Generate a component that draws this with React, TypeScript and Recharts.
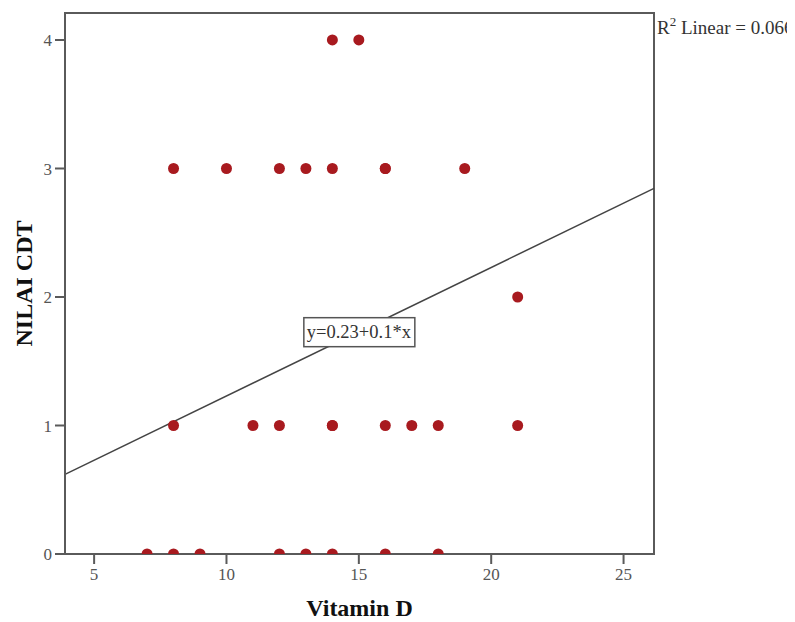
import React from 'react';
import {
  ScatterChart,
  Scatter,
  XAxis,
  YAxis,
  ReferenceLine,
  ReferenceArea,
  ReferenceDot,
} from 'recharts';

// Observations: Vitamin D (x) against NILAI CDT (y)
const vitaminD = [14, 15, 8, 10, 12, 13, 14, 16, 16, 19, 21, 8, 11, 12, 14, 14, 16, 17, 18, 21, 7, 8, 9, 12, 13, 14, 16, 18];
const nilaiCDT = [4, 4, 3, 3, 3, 3, 3, 3, 3, 3, 2, 1, 1, 1, 1, 1, 1, 1, 1, 1, 0, 0, 0, 0, 0, 0, 0, 0];

const xTicks = [5, 10, 15, 20, 25];
const yTicks = [0, 1, 2, 3, 4];
const xDomain: [number, number] = [3.9, 26.15];
const yDomain: [number, number] = [0, 4.21];

const intercept = 0.23;
const slope = 0.1;
const fitLabelX = 15;
const fitLabel = 'y=0.23+0.1*x';
const r2Value = '0.066';

const xTitle = 'Vitamin D';
const yTitle = 'NILAI CDT';

const points = vitaminD.map((x, i) => ({ x, y: nilaiCDT[i] }));
const fit = (x: number) => intercept + slope * x;

const FONT = '"Liberation Serif", "Times New Roman", serif';
const AXIS = '#5a5a5a';
const DOT = '#a81a1f';

const Dot = (props: any) => (
  <circle cx={props.cx} cy={props.cy} r={5.5} fill={DOT} />
);

const FitLabelShape = (props: any) => {
  const { cx, cy } = props;
  return (
    <g>
      <rect x={cx - 55} y={cy - 14} width={111} height={29} fill="#fff" stroke="#555" strokeWidth={1.5} />
      <text x={cx} y={cy + 6} textAnchor="middle" fontSize={18.5} fill="#333" fontFamily={FONT}>
        {fitLabel}
      </text>
    </g>
  );
};

const R2Shape = (props: any) => {
  const { cx, cy } = props;
  return (
    <text x={cx + 3} y={cy + 21} fontSize={19} fill="#333" fontFamily={FONT}>
      R
      <tspan dy={-8} fontSize={13}>2</tspan>
      <tspan dy={8}>{` Linear = ${r2Value}`}</tspan>
    </text>
  );
};

export default function App() {
  return (
    <div style={{ width: 787, height: 614, fontFamily: FONT }}>
      <ScatterChart
        width={787}
        height={614}
        margin={{ top: 5, right: 141, bottom: 8, left: 0 }}
        style={{ fontFamily: FONT }}
      >
        <XAxis
          type="number"
          dataKey="x"
          domain={xDomain}
          ticks={xTicks}
          allowDataOverflow
          height={60}
          tickSize={10}
          tickMargin={4}
          axisLine={{ stroke: AXIS, strokeWidth: 2 }}
          tickLine={{ stroke: AXIS, strokeWidth: 2 }}
          tick={{ fill: '#555', fontSize: 17, fontFamily: FONT }}
          label={{
            value: xTitle,
            position: 'insideBottom',
            offset: -2,
            style: { fontSize: 24, fontWeight: 'bold', fill: '#111', fontFamily: FONT },
          }}
        />
        <YAxis
          type="number"
          dataKey="y"
          domain={yDomain}
          ticks={yTicks}
          allowDataOverflow
          width={57}
          tickSize={10}
          tickMargin={3}
          axisLine={{ stroke: AXIS, strokeWidth: 2 }}
          tickLine={{ stroke: AXIS, strokeWidth: 2 }}
          tick={{ fill: '#555', fontSize: 17, fontFamily: FONT }}
          label={{
            value: yTitle,
            angle: -90,
            position: 'insideLeft',
            offset: 15,
            style: { textAnchor: 'middle', fontSize: 24, fontWeight: 'bold', fill: '#111', fontFamily: FONT },
          }}
        />
        <ReferenceArea
          x1={xDomain[0]}
          x2={xDomain[1]}
          y1={yDomain[0]}
          y2={yDomain[1]}
          fill="none"
          stroke={AXIS}
          strokeWidth={2}
          ifOverflow="visible"
        />
        <ReferenceLine
          segment={[
            { x: xDomain[0], y: fit(xDomain[0]) },
            { x: xDomain[1], y: fit(xDomain[1]) },
          ]}
          stroke="#444"
          strokeWidth={1.5}
          ifOverflow="visible"
        />
        <Scatter data={points} shape={<Dot />} isAnimationActive={false} />
        <ReferenceDot
          x={fitLabelX}
          y={fit(fitLabelX)}
          ifOverflow="visible"
          shape={(p: any) => <FitLabelShape {...p} />}
        />
        <ReferenceDot
          x={xDomain[1]}
          y={yDomain[1]}
          ifOverflow="visible"
          shape={(p: any) => <R2Shape {...p} />}
        />
      </ScatterChart>
    </div>
  );
}
